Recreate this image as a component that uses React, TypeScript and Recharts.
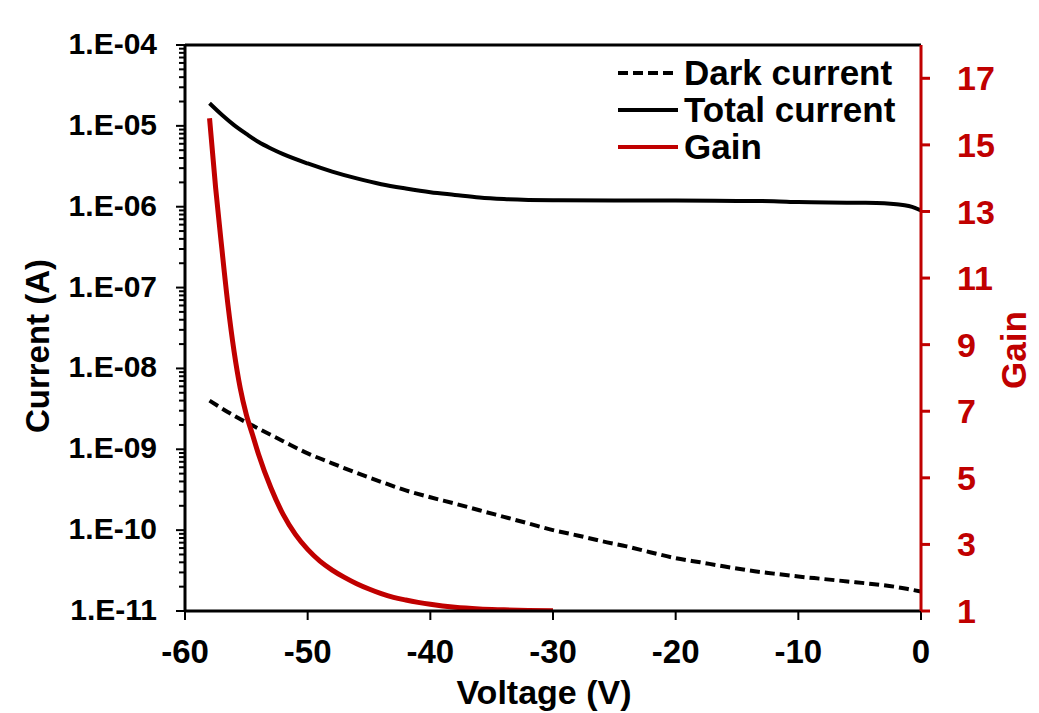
import React from 'react';
import { LineChart, Line, XAxis, YAxis, Legend, ReferenceLine, Label } from 'recharts';

// DATA
const darkVoltage = [-58, -56, -54, -52, -50, -48, -46, -44, -42, -40, -38, -36, -34, -32, -30, -28, -26, -24, -22, -20, -18, -16, -14, -12, -10, -8, -6, -4, -2, -1, 0];
const darkCurrent = [4.0e-9, 2.6e-9, 1.8e-9, 1.26e-9, 8.9e-10, 6.7e-10, 5.1e-10, 3.95e-10, 3.1e-10, 2.55e-10, 2.13e-10, 1.76e-10, 1.46e-10, 1.21e-10, 1.0e-10, 8.6e-11, 7.3e-11, 6.3e-11, 5.3e-11, 4.5e-11, 4.0e-11, 3.55e-11, 3.17e-11, 2.9e-11, 2.67e-11, 2.49e-11, 2.32e-11, 2.16e-11, 1.98e-11, 1.86e-11, 1.74e-11];

const totalVoltage = [-58, -57, -56, -55, -54, -53, -52, -50, -48, -46, -44, -42, -40, -38, -36, -34, -32, -30, -25, -20, -15, -12, -10, -5, -3, -2, -1, -0.5, 0];
const totalCurrent = [1.9e-5, 1.37e-5, 1.02e-5, 7.95e-6, 6.3e-6, 5.25e-6, 4.47e-6, 3.43e-6, 2.72e-6, 2.24e-6, 1.9e-6, 1.68e-6, 1.51e-6, 1.4e-6, 1.3e-6, 1.245e-6, 1.215e-6, 1.2e-6, 1.19e-6, 1.19e-6, 1.18e-6, 1.17e-6, 1.14e-6, 1.12e-6, 1.1e-6, 1.07e-6, 1.02e-6, 0.97e-6, 0.9e-6];

const gainVoltage = [-58, -57.5, -57, -56.5, -56, -55.5, -55, -54.5, -54, -53, -52, -51, -50, -49, -48, -47, -46, -45, -44, -43, -42, -41, -40, -38, -36, -34, -32, -30];
const gainValues = [15.8, 13.7, 11.9, 10.2, 8.8, 7.7, 6.9, 6.3, 5.7, 4.7, 3.9, 3.3, 2.85, 2.5, 2.23, 2.01, 1.82, 1.66, 1.52, 1.41, 1.33, 1.26, 1.2, 1.11, 1.06, 1.035, 1.015, 1.005];

const voltageTicks = [-60, -50, -40, -30, -20, -10, 0];
const decadeTicks = [1e-11, 1e-10, 1e-9, 1e-8, 1e-7, 1e-6, 1e-5, 1e-4];
const minorSteps = [2, 3, 4, 5, 6, 7, 8, 9];
const gainTicks = [1, 3, 5, 7, 9, 11, 13, 15, 17];

const legendItems = [
    { name: 'Dark current', color: '#000000', dash: '10 5' },
    { name: 'Total current', color: '#000000', dash: undefined },
    { name: 'Gain', color: '#c00000', dash: undefined },
];

const darkData = darkVoltage.map((v, i) => ({ v, i: darkCurrent[i] }));
const totalData = totalVoltage.map((v, i) => ({ v, i: totalCurrent[i] }));
const gainData = gainVoltage.map((v, i) => ({ v, g: gainValues[i] }));

const currentTicks = decadeTicks.concat(
    decadeTicks.slice(0, -1).flatMap(d => minorSteps.map(m => m * d))
).sort((a, b) => a - b);

const FONT = '"Liberation Sans", Arial, sans-serif';
const RED = '#c00000';

// log axis tick with minor marks
const LogTick = (props: any) => {
    const { x, y, payload } = props;
    const lg = Math.log10(payload.value);
    const major = Math.abs(lg - Math.round(lg)) < 1e-6;
    const len = major ? 9 : 6;
    const label = '1.E-' + String(Math.abs(Math.round(lg))).padStart(2, '0');
    return (
        <g>
            <line x1={x - len} x2={x} y1={y} y2={y} stroke="#000" strokeWidth={2} />
            {major && (
                <text x={x - 28} y={y + 9} textAnchor="end" fill="#000" fontSize={30} fontWeight="bold" fontFamily={FONT}>
                    {label}
                </text>
            )}
        </g>
    );
};

const renderLegend = () => (
    <div style={{ fontFamily: FONT, fontWeight: 'bold', fontSize: 35, color: '#000' }}>
        {legendItems.map(item => (
            <div key={item.name} style={{ display: 'flex', alignItems: 'center', height: 37, lineHeight: '37px' }}>
                <svg width={64} height={10}>
                    <line x1={2} y1={5} x2={62} y2={5} stroke={item.color} strokeWidth={4} strokeDasharray={item.dash} />
                </svg>
                <span style={{ marginLeft: 4 }}>{item.name}</span>
            </div>
        ))}
    </div>
);

const App: React.FC = () => {
    return (
        <div style={{ position: 'absolute', left: 0, top: 0, background: '#fff' }}>
            <LineChart width={1039} height={713} margin={{ top: 45, right: 0, bottom: 0, left: 0 }}>
                <XAxis
                    dataKey="v"
                    type="number"
                    domain={[-60, 0]}
                    ticks={voltageTicks}
                    allowDataOverflow
                    height={102}
                    tickSize={9}
                    tickMargin={20}
                    axisLine={{ stroke: '#000', strokeWidth: 3 }}
                    tickLine={{ stroke: '#000', strokeWidth: 2 }}
                    tick={{ fill: '#000', fontSize: 33, fontWeight: 'bold', fontFamily: FONT }}
                >
                    <Label
                        content={({ viewBox }: any) => (
                            <text x={viewBox.x + viewBox.width / 2 - 9} y={viewBox.y + 93} textAnchor="middle" fill="#000" fontSize={34} fontWeight="bold" fontFamily={FONT}>
                                Voltage (V)
                            </text>
                        )}
                    />
                </XAxis>
                <YAxis
                    yAxisId="left"
                    scale="log"
                    domain={[1e-11, 1e-4]}
                    allowDataOverflow
                    ticks={currentTicks}
                    interval={0}
                    width={185}
                    tickSize={0}
                    tickMargin={0}
                    tickLine={false}
                    tick={<LogTick />}
                    axisLine={{ stroke: '#000', strokeWidth: 3 }}
                >
                    <Label
                        content={({ viewBox }: any) => {
                            const cx = viewBox.x + 37;
                            const cy = viewBox.y + viewBox.height / 2 + 18;
                            return (
                                <text x={cx} y={cy} transform={`rotate(-90 ${cx} ${cy})`} textAnchor="middle" dominantBaseline="central" fill="#000" fontSize={33} fontWeight="bold" fontFamily={FONT}>
                                    Current (A)
                                </text>
                            );
                        }}
                    />
                </YAxis>
                <YAxis
                    yAxisId="gain"
                    orientation="right"
                    domain={[1, 18]}
                    allowDataOverflow
                    ticks={gainTicks}
                    interval={0}
                    width={118}
                    tickSize={9}
                    tickMargin={27}
                    axisLine={{ stroke: RED, strokeWidth: 3 }}
                    tickLine={{ stroke: RED, strokeWidth: 3 }}
                    tick={{ fill: RED, fontSize: 34, fontWeight: 'bold', fontFamily: FONT }}
                >
                    <Label
                        content={({ viewBox }: any) => {
                            const cx = viewBox.x + 92;
                            const cy = viewBox.y + viewBox.height / 2 + 22;
                            return (
                                <text x={cx} y={cy} transform={`rotate(-90 ${cx} ${cy})`} textAnchor="middle" dominantBaseline="central" fill={RED} fontSize={35} fontWeight="bold" fontFamily={FONT}>
                                    Gain
                                </text>
                            );
                        }}
                    />
                </YAxis>
                <ReferenceLine yAxisId="left" y={1e-4} stroke="#000" strokeWidth={3} />
                <Legend
                    layout="vertical"
                    align="center"
                    verticalAlign="middle"
                    wrapperStyle={{ left: 616, top: 54, width: 330 }}
                    content={renderLegend}
                />
                <Line name="Dark current" data={darkData} dataKey="i" yAxisId="left" type="monotone" stroke="#000" strokeWidth={4} strokeDasharray="10 5" dot={false} isAnimationActive={false} />
                <Line name="Total current" data={totalData} dataKey="i" yAxisId="left" type="monotone" stroke="#000" strokeWidth={4} dot={false} isAnimationActive={false} />
                <Line name="Gain" data={gainData} dataKey="g" yAxisId="gain" type="monotone" stroke={RED} strokeWidth={5} dot={false} isAnimationActive={false} />
            </LineChart>
        </div>
    );
};

export default App;
